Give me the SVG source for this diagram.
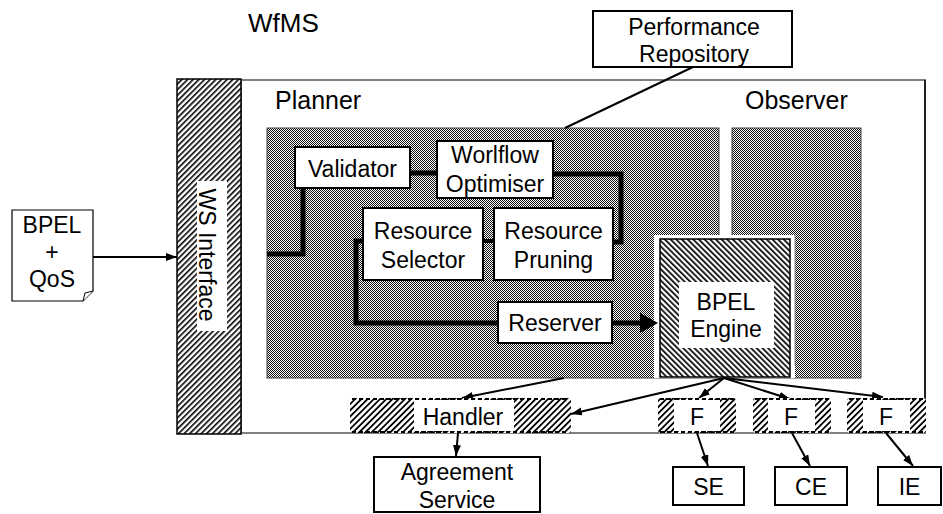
<svg xmlns="http://www.w3.org/2000/svg" width="943" height="514" viewBox="0 0 943 514">
<style>
text{font-family:"Liberation Sans",Arial,sans-serif;fill:#000;}
.lbl{font-size:23px;text-anchor:middle;}
.big{font-size:25px;}
.box{fill:#fff;stroke:#000;stroke-width:2;}
.flow{fill:none;stroke:#000;stroke-width:5;}
.conn{fill:none;stroke:#000;stroke-width:2;}
.dash{fill:none;stroke:#000;stroke-width:2;stroke-dasharray:4 3;}
.px{shape-rendering:crispEdges;}
</style>
<defs>
<pattern id="chk" patternUnits="userSpaceOnUse" x="0" y="0" width="2" height="2">
<rect class="px" width="2" height="2" fill="#fff"/>
<rect class="px" width="1" height="1" fill="#111"/>
<rect class="px" x="1" y="1" width="1" height="1" fill="#111"/>
</pattern>
<pattern id="hf" patternUnits="userSpaceOnUse" width="4" height="10" patternTransform="rotate(45)">
<rect width="4" height="10" fill="#fff"/>
<rect width="1.6" height="10" fill="#000"/>
</pattern>
<pattern id="hb" patternUnits="userSpaceOnUse" width="4" height="10" patternTransform="rotate(-45)">
<rect width="4" height="10" fill="#fff"/>
<rect width="1.7" height="10" fill="#000"/>
</pattern>
<pattern id="hh" patternUnits="userSpaceOnUse" width="4.4" height="10" patternTransform="rotate(45)">
<rect width="4.4" height="10" fill="#fff"/>
<rect width="1.8" height="10" fill="#000"/>
</pattern>
<marker id="ah" markerUnits="userSpaceOnUse" markerWidth="12" markerHeight="10" refX="11" refY="4" orient="auto">
<path d="M0,0 L11,4 L0,8 Z" fill="#000"/>
</marker>
</defs>

<text x="248" y="32" style="font-size:26px">WfMS</text>

<g id="container">
<rect x="241" y="80" width="684" height="353" fill="#fff" stroke="#808080" stroke-width="2"/>
<line x1="925" y1="80" x2="925" y2="400" stroke="#000" stroke-width="1.5"/>
<text x="275" y="109" class="big">Planner</text>
<text x="745" y="109" class="big">Observer</text>
</g>

<g id="ws-interface">
<rect x="177" y="79" width="64" height="355" fill="url(#hf)" stroke="#000" stroke-width="1.5"/>
<rect x="197" y="181" width="30" height="150" fill="#fff"/>
<text transform="translate(199,255) rotate(90)" class="lbl">WS Interface</text>
</g>

<g id="planner">
<rect x="267" y="128" width="452" height="250" fill="url(#chk)" stroke="#444" stroke-width="1"/>
</g>

<g id="observer">
<rect x="732" y="128" width="129" height="250" fill="url(#chk)" stroke="#444" stroke-width="1"/>
</g>

<g id="bpel-engine">
<rect x="654" y="235" width="141" height="143" fill="#fff"/>
<line x1="795" y1="235" x2="795" y2="365" stroke="#888" stroke-width="1"/>
<rect x="660" y="239" width="130" height="138" fill="url(#hb)" stroke="#000" stroke-width="1.5"/>
<rect x="679" y="282" width="95" height="66" fill="#fff"/>
<text x="726" y="310" class="lbl">BPEL</text>
<text x="726" y="337" class="lbl">Engine</text>
</g>

<g id="connectors">
<path class="flow" d="M267,254 H303 V188"/>
<path class="flow" d="M410,173 H437"/>
<path class="flow" d="M553,174 H621 V242 H613"/>
<path class="flow" d="M494,241 H483" style="stroke-width:4"/>
<path class="flow" d="M363,241 H356 V323 H498"/>
<path class="flow" d="M612,323 H642"/>
<path d="M640,313 L658,323 L640,333 Z" fill="#000"/>
<line class="conn" x1="693" y1="67" x2="565" y2="128"/>
<line class="conn" x1="93" y1="257" x2="177" y2="257" marker-end="url(#ah)"/>
<line class="conn" x1="564" y1="378" x2="462" y2="398" marker-end="url(#ah)"/>
<line class="conn" x1="724" y1="378" x2="571" y2="414" marker-end="url(#ah)"/>
<line class="conn" x1="724" y1="378" x2="699" y2="398" marker-end="url(#ah)"/>
<line class="conn" x1="724" y1="378" x2="790" y2="399" marker-end="url(#ah)"/>
<line class="conn" x1="724" y1="378" x2="883" y2="397" marker-end="url(#ah)"/>
<line class="conn" x1="458" y1="433" x2="456" y2="456" marker-end="url(#ah)"/>
<line class="conn" x1="697" y1="433" x2="708" y2="466" marker-end="url(#ah)"/>
<line class="conn" x1="792" y1="433" x2="810" y2="466" marker-end="url(#ah)"/>
<line class="conn" x1="886" y1="433" x2="913" y2="466" marker-end="url(#ah)"/>
</g>

<g id="validator">
<rect x="295" y="147" width="115" height="41" class="box"/>
<text x="352.5" y="177" class="lbl">Validator</text>
</g>

<g id="workflow-optimiser">
<rect x="437" y="141" width="116" height="57" class="box"/>
<text x="495" y="163" class="lbl">Worlflow</text>
<text x="495" y="192" class="lbl">Optimiser</text>
</g>

<g id="resource-selector">
<rect x="363" y="208" width="120" height="72" class="box"/>
<text x="423" y="239" class="lbl">Resource</text>
<text x="423" y="268" class="lbl">Selector</text>
</g>

<g id="resource-pruning">
<rect x="494" y="208" width="119" height="72" class="box"/>
<text x="553.5" y="239" class="lbl">Resource</text>
<text x="553.5" y="268" class="lbl">Pruning</text>
</g>

<g id="reserver">
<rect x="498" y="302" width="114" height="41" class="box"/>
<text x="555" y="331" class="lbl">Reserver</text>
</g>

<g id="performance-repository">
<rect x="593" y="11" width="199" height="56" class="box"/>
<text x="694" y="35" class="lbl">Performance</text>
<text x="694" y="62" class="lbl">Repository</text>
</g>

<g id="bpel-qos">
<path d="M12,210 H93 V291 L83,301 H12 Z" fill="#fff" stroke="#000" stroke-width="1.2"/>
<path d="M93,291 L85,293 L83,301" fill="#fff" stroke="#000" stroke-width="1"/>
<text x="52" y="233" class="lbl">BPEL</text>
<text x="52" y="260" class="lbl">+</text>
<text x="52" y="287" class="lbl">QoS</text>
</g>

<g id="handler">
<rect x="350" y="398" width="221" height="35" rx="3" fill="url(#hh)"/>
<rect x="414" y="400" width="100" height="31" fill="#fff"/>
<line class="dash" x1="352" y1="399" x2="569" y2="399"/>
<line class="dash" x1="352" y1="432" x2="569" y2="432"/>
<text x="463" y="425" class="lbl">Handler</text>
</g>

<g id="agreement-service">
<rect x="374" y="457" width="166" height="55" class="box"/>
<text x="457" y="480" class="lbl">Agreement</text>
<text x="457" y="508" class="lbl">Service</text>
</g>

<g id="f1">
<rect x="658" y="398" width="78" height="35" rx="3" fill="url(#hh)"/>
<rect x="674" y="400" width="46" height="31" fill="#fff"/>
<line class="dash" x1="660" y1="399" x2="734" y2="399"/>
<line class="dash" x1="660" y1="432" x2="734" y2="432"/>
<text x="697" y="425" class="lbl">F</text>
</g>

<g id="f2">
<rect x="753" y="398" width="78" height="35" rx="3" fill="url(#hh)"/>
<rect x="768" y="400" width="47" height="31" fill="#fff"/>
<line class="dash" x1="755" y1="399" x2="829" y2="399"/>
<line class="dash" x1="755" y1="432" x2="829" y2="432"/>
<text x="791" y="425" class="lbl">F</text>
</g>

<g id="f3">
<rect x="847" y="398" width="79" height="35" rx="3" fill="url(#hh)"/>
<rect x="863" y="400" width="47" height="31" fill="#fff"/>
<line class="dash" x1="849" y1="399" x2="924" y2="399"/>
<line class="dash" x1="849" y1="432" x2="924" y2="432"/>
<text x="886" y="425" class="lbl">F</text>
</g>

<g id="se">
<rect x="673" y="467" width="71" height="38" class="box"/>
<text x="708.5" y="495" class="lbl">SE</text>
</g>

<g id="ce">
<rect x="775" y="467" width="72" height="38" class="box"/>
<text x="811" y="495" class="lbl">CE</text>
</g>

<g id="ie">
<rect x="878" y="467" width="63" height="38" class="box"/>
<text x="909.5" y="495" class="lbl">IE</text>
</g>
</svg>
